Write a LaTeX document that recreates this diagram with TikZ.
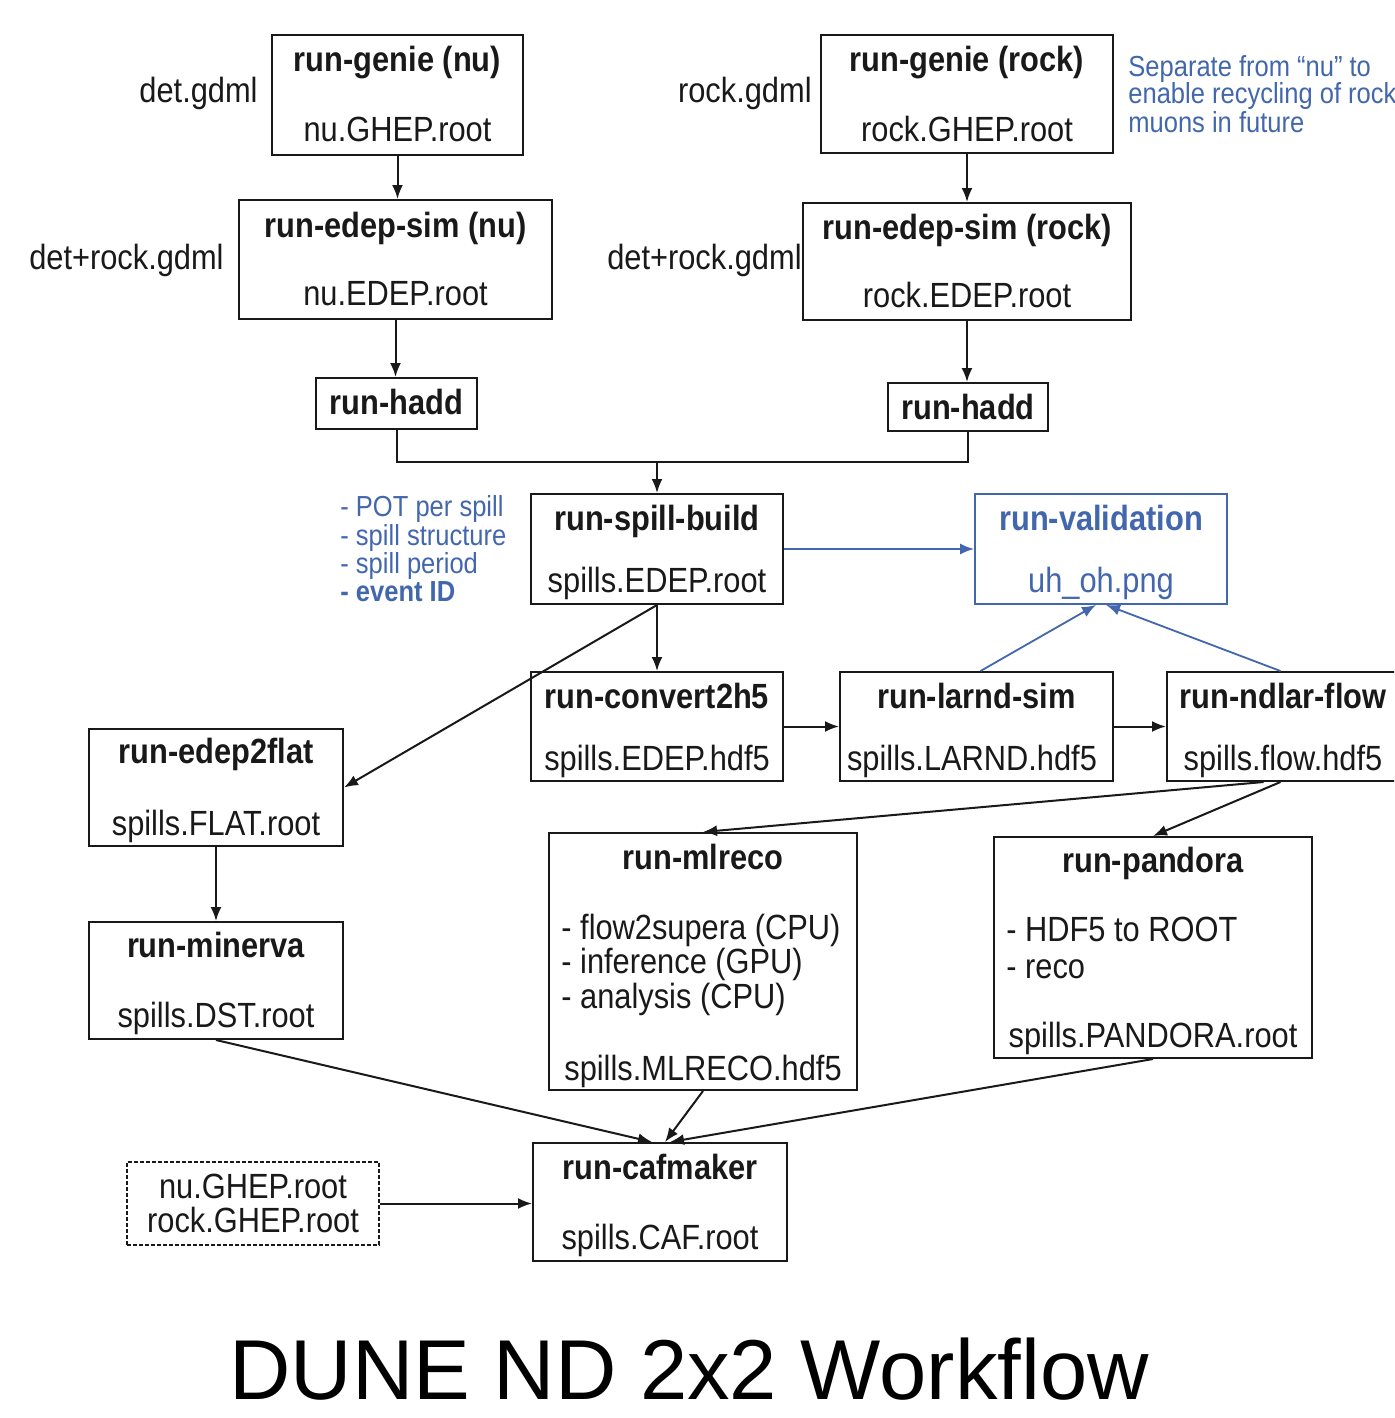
\documentclass[tikz,border=0pt]{standalone}
\usepackage{fontspec}
\setmainfont{Liberation Sans}
\newfontfamily\dfont[FakeStretch=0.88]{Liberation Sans}
\usetikzlibrary{fit,arrows.meta}
\definecolor{nblue}{RGB}{66,103,172}
\definecolor{ink}{RGB}{25,25,25}
\tikzset{
  bx/.style={draw=ink, line width=1pt, inner sep=0pt},
  vbx/.style={draw=nblue, line width=0.9pt, inner sep=0pt},
  dbx/.style={draw=ink, line width=0.9pt, inner sep=0pt, dash pattern=on 1.8pt off 1.2pt},
  ttl/.style={font=\dfont\bfseries\fontsize{17.5}{21}\selectfont, text=ink, anchor=base, inner sep=0pt},
  sub/.style={font=\dfont\fontsize{17.5}{21}\selectfont, text=ink, anchor=base, inner sep=0pt},
  lbl/.style={font=\dfont\fontsize{17.5}{21}\selectfont, text=ink, anchor=base east, inner sep=0pt},
  itm/.style={font=\dfont\fontsize{17.5}{21}\selectfont, text=ink, anchor=base west, inner sep=0pt},
  bnote/.style={font=\dfont\fontsize{14.5}{17}\selectfont, text=nblue, anchor=base west, inner sep=0pt},
  arr/.style={draw=ink, line width=1pt, -{Latex[length=7pt,width=5.5pt]}},
  ln/.style={draw=ink, line width=1pt},
  barr/.style={draw=nblue, line width=0.9pt, -{Latex[length=7pt,width=5.5pt]}},
}
\begin{document}
\begin{tikzpicture}[x=0.5pt,y=-0.5pt]
\useasboundingbox (0,0) rectangle (1394,1418);
\clip (0,0) rectangle (1394,1418);
\fill[white] (0,0) rectangle (1394,1418);

% ---- boxes ----
\node[bx, fit={(272,35) (523,155)}] (gnu) {};
\node[ttl] (gnu-t) at (397.5,72) {run-genie (nu)};
\node[sub] (gnu-s) at (397.5,141) {nu.GHEP.root};

\node[bx, fit={(821,35) (1113,153)}] (grk) {};
\node[ttl] (grk-t) at (967,72) {run-genie (rock)};
\node[sub] (grk-s) at (967,141) {rock.GHEP.root};

\node[bx, fit={(239,200) (552,319)}] (enu) {};
\node[ttl] (enu-t) at (395.5,237) {run-edep-sim (nu)};
\node[sub] (enu-s) at (395.5,305) {nu.EDEP.root};

\node[bx, fit={(803,203) (1131,320)}] (erk) {};
\node[ttl] (erk-t) at (967,239) {run-edep-sim (rock)};
\node[sub] (erk-s) at (967,307) {rock.EDEP.root};

\node[bx, fit={(316,378) (477,429)}] (h1) {};
\node[ttl] (h1-t) at (396.5,414) {run-hadd};

\node[bx, fit={(888,383) (1048,431)}] (h2) {};
\node[ttl] (h2-t) at (968,419) {run-hadd};

\node[bx, fit={(531,494) (783,604)}] (sp) {};
\node[ttl] (sp-t) at (657,530) {run-spill-build};
\node[sub] (sp-s) at (657,592) {spills.EDEP.root};

\node[vbx, fit={(975,494) (1227,604)}] (val) {};
\node[ttl, text=nblue] (val-t) at (1101,530) {run-validation};
\node[sub, text=nblue] (val-s) at (1101,592) {uh\_oh.png};

\node[bx, fit={(531,672) (783,781)}] (cv) {};
\node[ttl] (cv-t) at (657,708) {run-convert2h5};
\node[sub] (cv-s) at (657,770) {spills.EDEP.hdf5};

\node[bx, fit={(840,672) (1113,781)}] (la) {};
\node[ttl] (la-t) at (976.5,708) {run-larnd-sim};
\node[sub] (la-s) at (972,770) {spills.LARND.hdf5};

\node[bx, fit={(1167,672) (1400,781)}] (nd) {};
\node[ttl] (nd-t) at (1283,708) {run-ndlar-flow};
\node[sub] (nd-s) at (1283,770) {spills.flow.hdf5};

\node[bx, fit={(89,729) (343,846)}] (ef) {};
\node[ttl] (ef-t) at (216,763) {run-edep2flat};
\node[sub] (ef-s) at (216,835) {spills.FLAT.root};

\node[bx, fit={(89,922) (343,1039)}] (mn) {};
\node[ttl] (mn-t) at (216,957) {run-minerva};
\node[sub] (mn-s) at (216,1027) {spills.DST.root};

\node[bx, fit={(549,833) (857,1090)}] (ml) {};
\node[ttl] (ml-t) at (703,869) {run-mlreco};
\node[itm] (ml-i1) at (561,939) {- flow2supera (CPU)};
\node[itm] (ml-i2) at (561,973) {- inference (GPU)};
\node[itm] (ml-i3) at (561,1008) {- analysis (CPU)};
\node[sub] (ml-s) at (703,1080) {spills.MLRECO.hdf5};

\node[bx, fit={(994,837) (1312,1058)}] (pd) {};
\node[ttl] (pd-t) at (1153,872) {run-pandora};
\node[itm] (pd-i1) at (1006,941) {- HDF5 to ROOT};
\node[itm] (pd-i2) at (1006,978) {- reco};
\node[sub] (pd-s) at (1153,1047) {spills.PANDORA.root};

\node[bx, fit={(533,1143) (787,1261)}] (cm) {};
\node[ttl] (cm-t) at (660,1179) {run-cafmaker};
\node[sub] (cm-s) at (660,1249) {spills.CAF.root};

\node[dbx, fit={(127,1162) (379,1245)}] (gh) {};
\node[sub] (gh-1) at (253,1198) {nu.GHEP.root};
\node[sub] (gh-2) at (253,1232) {rock.GHEP.root};

% ---- side labels ----
\node[lbl] (l1) at (258,103) {det.gdml};
\node[lbl] (l2) at (812,103) {rock.gdml};
\node[lbl] (l3) at (224,269) {det+rock.gdml};
\node[lbl] (l4) at (802,269) {det+rock.gdml};

\node[bnote] (n1) at (1128,76) {Separate from “nu” to};
\node[bnote] (n2) at (1128,104) {enable recycling of rock};
\node[bnote] (n3) at (1128,133) {muons in future};

\node[bnote] (p1) at (340,516) {- POT per spill};
\node[bnote] (p2) at (340,545) {- spill structure};
\node[bnote] (p3) at (340,573) {- spill period};
\node[bnote, font=\dfont\bfseries\fontsize{14.5}{17}\selectfont] (p4) at (340,601) {- event ID};

% ---- title ----
\node[font=\fontsize{42.5}{48}\selectfont, text=black, anchor=base, inner sep=0pt] (title) at (689,1399) {DUNE ND 2x2 Workflow};

% ---- connectors ----
\draw[arr] (gnu.south) -- (gnu.south |- enu.north);
\draw[arr] (grk.south) -- (grk.south |- erk.north);
\draw[arr] (enu.south) -- (enu.south |- h1.north);
\draw[arr] (erk.south) -- (erk.south |- h2.north);
\coordinate (m) at (657,462);
\draw[ln] (h1.south) |- (m) -| (h2.south);
\draw[arr] (m) -- (m |- sp.north);
\draw[barr] (sp.east) -- (val.west);
\draw[arr] (sp.south) -- (cv.north);
\draw[arr] (sp.south) -- (ef.east);
\draw[arr] (cv.east) -- (la.west);
\draw[arr] (la.east) -- (nd.west |- la.east);
\draw[barr] ([xshift=2pt]la.north) -- ([xshift=-2.5pt]val.south);
\draw[barr] ([xshift=-1.5pt]nd.north) -- ([xshift=2.5pt]val.south);
\draw[arr] ([xshift=-10pt]nd.south) -- (ml.north);
\draw[arr] ([xshift=-1.5pt]nd.south) -- (pd.north);
\draw[arr] (ef.south) -- (mn.north);
\draw[arr] (mn.south) -- ([xshift=-4pt]cm.north);
\draw[arr] (ml.south) -- ([xshift=2.5pt]cm.north);
\draw[arr] (pd.south) -- ([xshift=5pt]cm.north);
\draw[arr] (gh.east) -- (cm.west |- gh.east);
\end{tikzpicture}
\end{document}
